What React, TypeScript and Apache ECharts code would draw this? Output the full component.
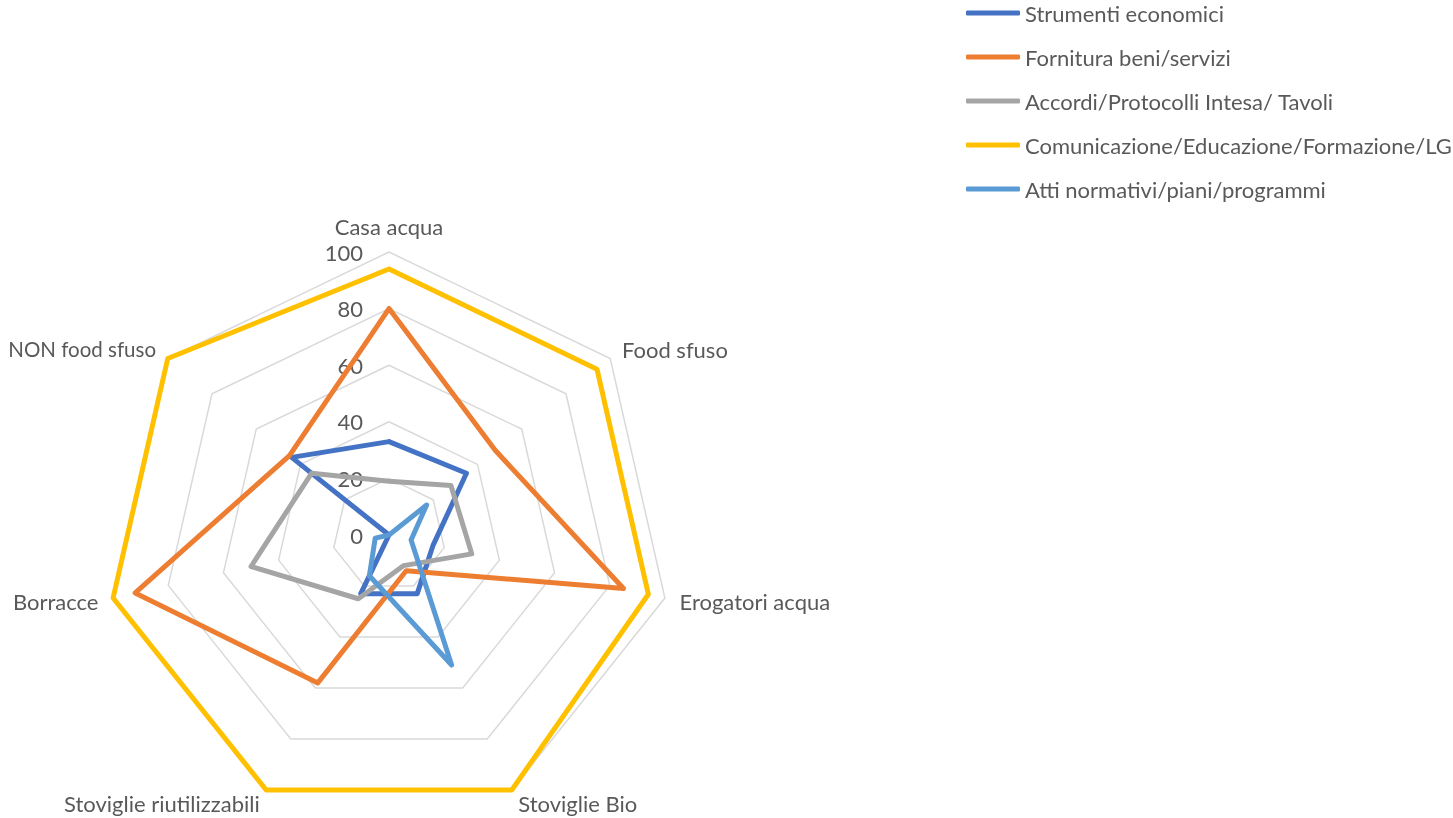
import React, { useEffect, useRef } from "react";
import * as echarts from "echarts";

const categories = [
  "Casa acqua",
  "Food sfuso",
  "Erogatori acqua",
  "Stoviglie Bio",
  "Stoviglie riutilizzabili",
  "Borracce",
  "NON food sfuso",
];

const seriesNames = [
  "Strumenti economici",
  "Fornitura beni/servizi",
  "Accordi/Protocolli Intesa/ Tavoli",
  "Comunicazione/Educazione/Formazione/LG",
  "Atti normativi/piani/programmi",
];

const strumentiEconomici = [33, 35, 16, 23, 23, 0, 44];
const fornituraBeniServizi = [80, 48, 85, 14, 58, 92, 45];
const accordiProtocolli = [19, 28, 30, 12, 25, 50, 35];
const comunicazioneEducazione = [94, 94, 94, 100, 100, 100, 100];
const attiNormativi = [0, 17, 8, 51, 16, 5, 0];

const seriesValues = [
  strumentiEconomici,
  fornituraBeniServizi,
  accordiProtocolli,
  comunicazioneEducazione,
  attiNormativi,
];

const colors = ["#4472C4", "#ED7D31", "#A5A5A5", "#FFC000", "#5B9BD5"];

const axisMin = 0;
const axisMax = 100;
const axisSplits = 5;

const FONT = "Lato, 'Noto Sans', sans-serif";
const TEXT = "#595959";
const FS = 22;

export default function App() {
  const ref = useRef<HTMLDivElement>(null);

  useEffect(() => {
    if (!ref.current) return;
    const chart = echarts.init(ref.current, undefined, { renderer: "svg" });

    // ECharts lays radar indicators counter-clockwise; Excel goes clockwise.
    const order = categories.map((_, i) => (i === 0 ? 0 : categories.length - i));

    const indicator = order.map((i) => {
      const base: any = { name: categories[i], min: axisMin, max: axisMax };
      if (i === 0) {
        base.axisLabel = {
          show: true,
          color: TEXT,
          fontSize: FS,
          fontFamily: FONT,
          margin: 26,
        };
      }
      return base;
    });

    chart.setOption({
      animation: false,
      textStyle: { fontFamily: FONT },
      legend: {
        orient: "vertical",
        left: 966,
        top: 2,
        padding: 0,
        itemWidth: 54,
        itemHeight: 5,
        itemGap: 22,
        icon: "roundRect",
        data: seriesNames,
        textStyle: { color: TEXT, fontSize: FS, fontFamily: FONT, lineHeight: 22 },
      },
      radar: {
        center: [389, 535],
        radius: 283,
        startAngle: 90,
        splitNumber: axisSplits,
        shape: "polygon",
        axisName: {
          color: TEXT,
          fontSize: FS,
          fontFamily: FONT,
          formatter: (name: string) =>
            name === categories[6] ? `{n|${name}}` : name,
          rich: {
            n: { color: TEXT, fontSize: 20.5, fontFamily: FONT },
          },
        },
        nameGap: 15,
        axisLine: { show: false },
        axisTick: { show: false },
        axisLabel: { show: false },
        splitArea: { show: false },
        splitLine: { lineStyle: { color: "#D9D9D9", width: 1.5 } },
        indicator,
      },
      series: seriesNames.map((name, s) => ({
        type: "radar",
        name,
        symbol: "none",
        silent: true,
        itemStyle: { color: colors[s] },
        lineStyle: {
          color: colors[s],
          width: 5,
          cap: "round",
          join: "round",
        },
        data: [{ name, value: order.map((i) => seriesValues[s][i]) }],
      })),
    });

    return () => chart.dispose();
  }, []);

  return (
    <div
      ref={ref}
      style={{ position: "fixed", left: 0, top: 0, width: 1453, height: 818 }}
    />
  );
}
